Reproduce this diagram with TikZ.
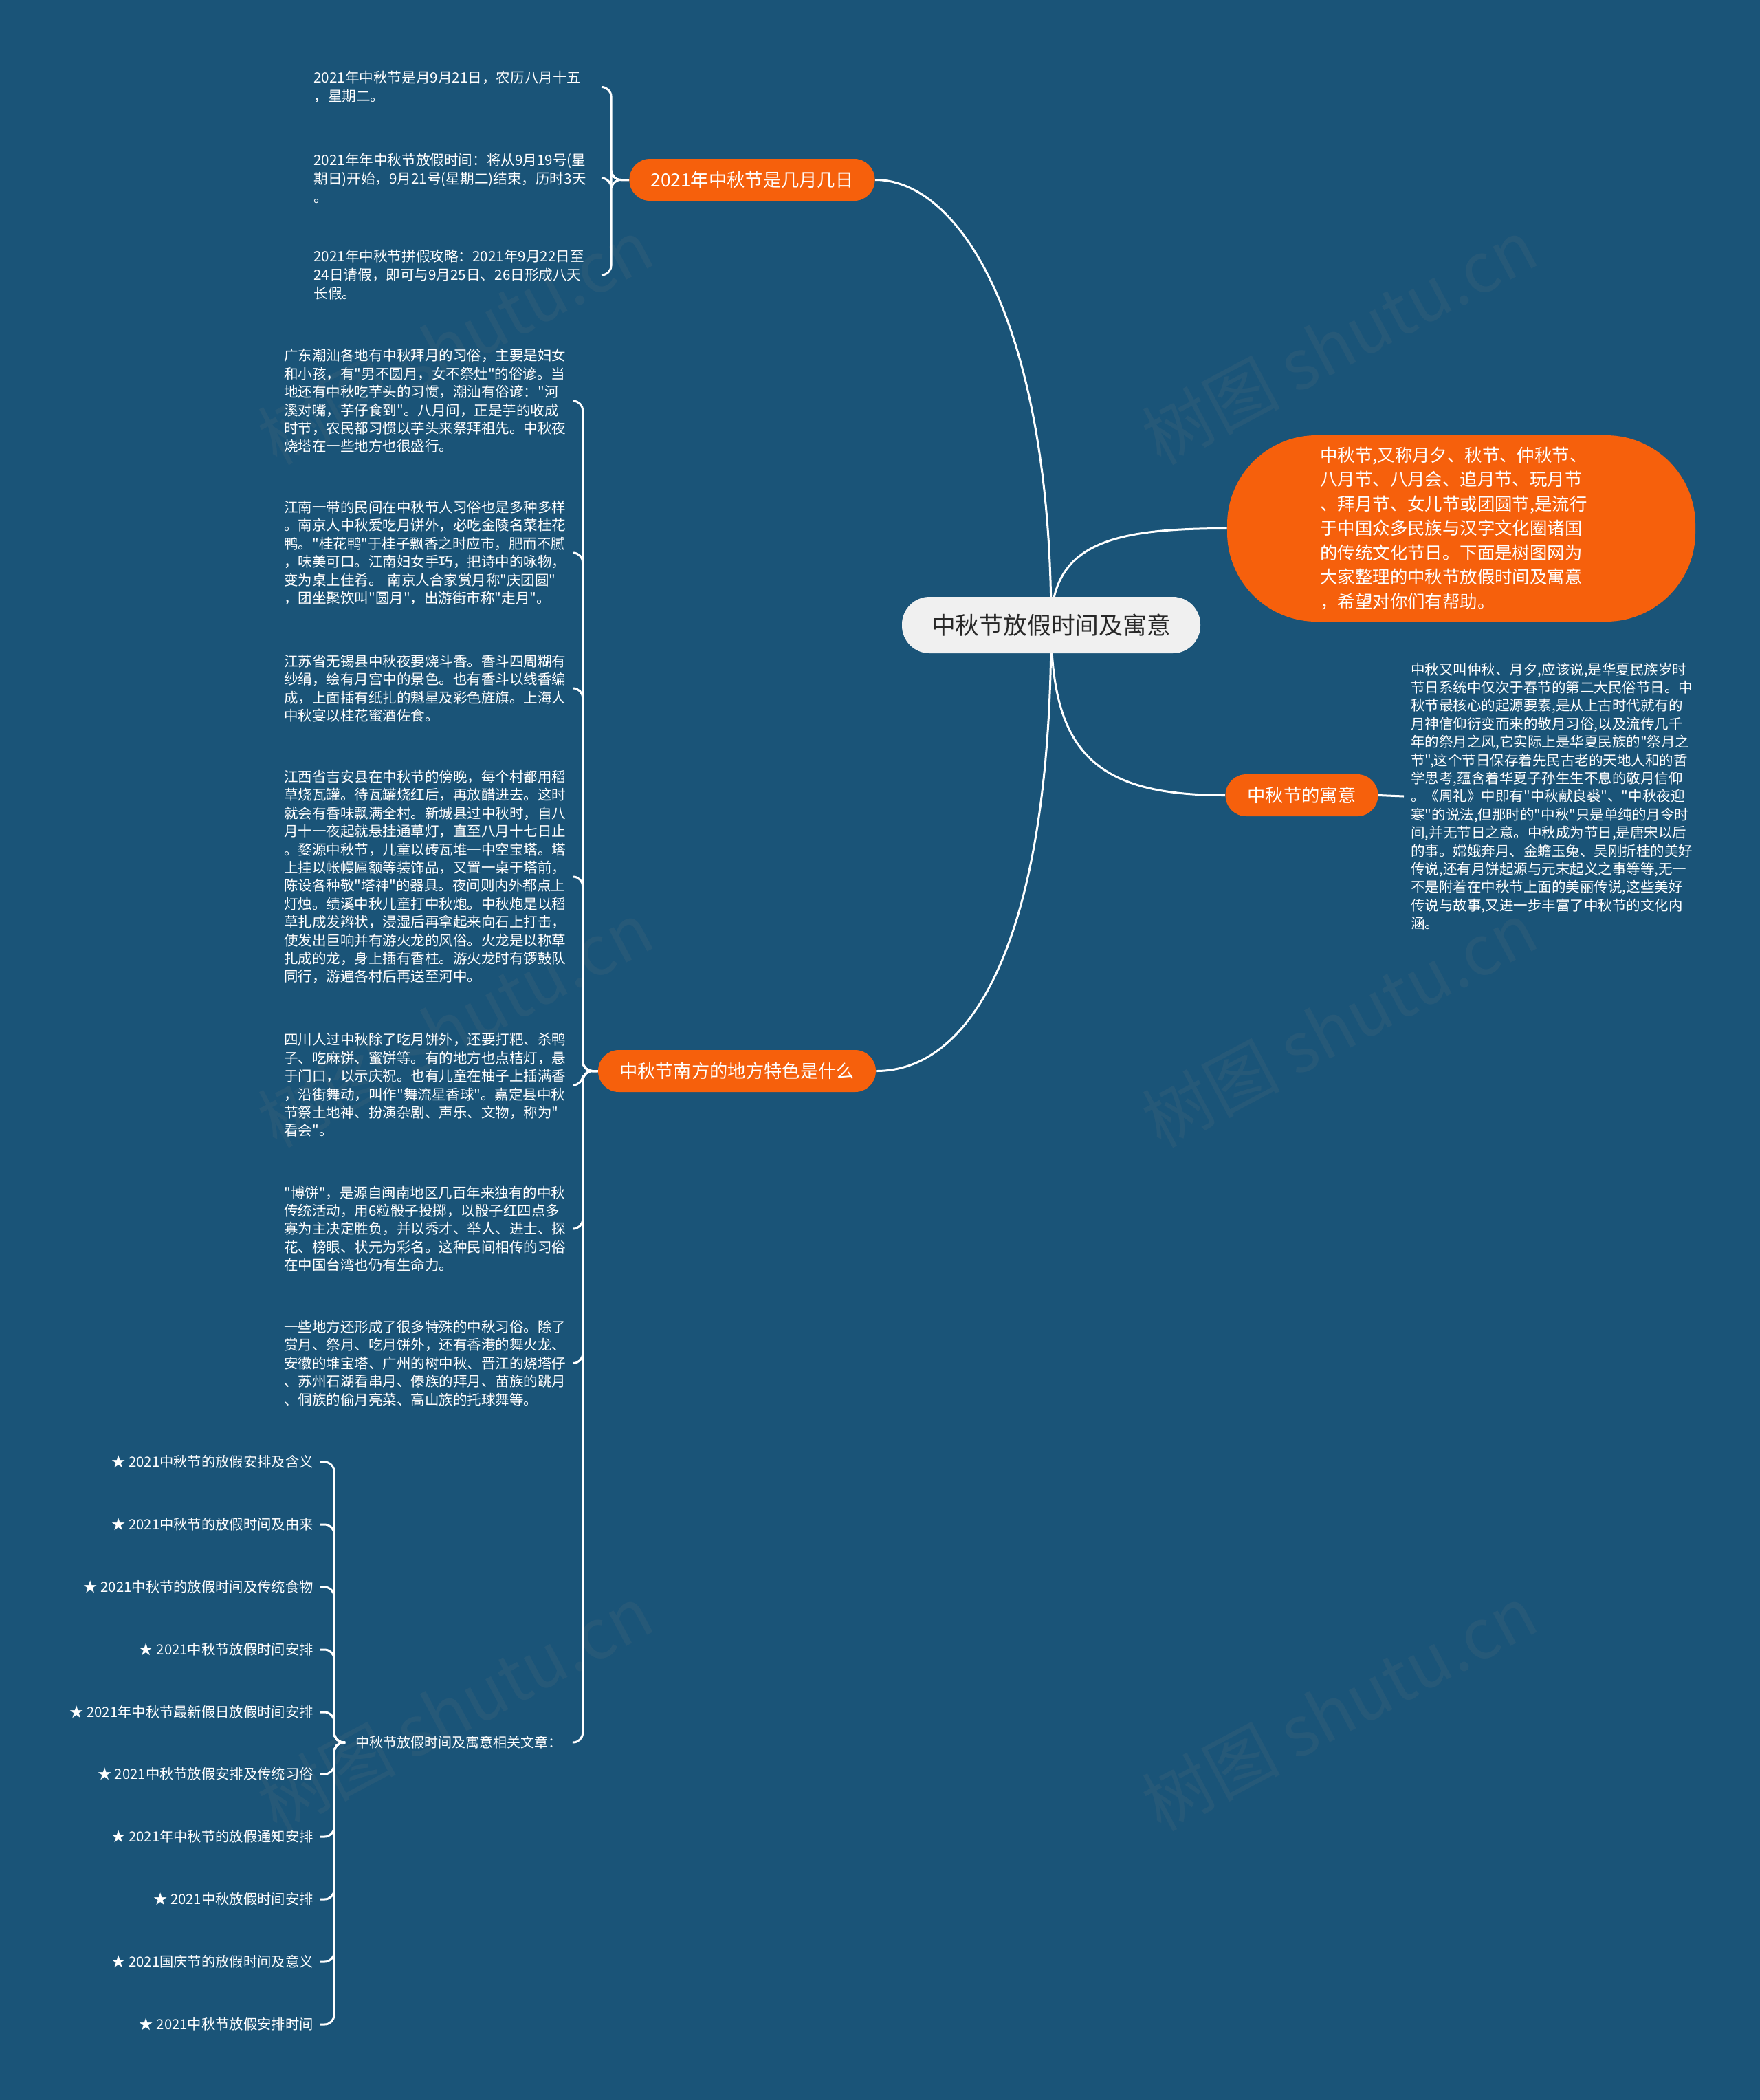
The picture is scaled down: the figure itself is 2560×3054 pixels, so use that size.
\documentclass[tikz,border=0pt]{standalone}
\usepackage{fontspec}
\setmainfont{Noto Sans CJK SC}[Ligatures=TeXOff]
\definecolor{bgblue}{RGB}{26,84,120}
\definecolor{orng}{RGB}{246,96,12}
\definecolor{rootfill}{RGB}{240,240,240}
\definecolor{roottext}{RGB}{40,40,40}
\pgfdeclarelayer{back}
\pgfdeclarelayer{mid}
\pgfsetlayers{back,mid,main}
\tikzset{
  leaf/.style={text=white, inner sep=0pt, text width=210pt, align=left, anchor=west,
    font=\fontsize{10.25}{13.2}\selectfont},
  leafA/.style={leaf, font=\fontsize{10.3}{13.5}\selectfont},
  branch/.style={fill=orng, text=white, rounded corners=15pt, minimum height=30.5pt,
    inner xsep=15.5pt, inner ysep=0pt, font=\fontsize{13.15}{16}\selectfont},
  rootbox/.style={fill=rootfill, text=roottext, rounded corners=20pt, minimum height=41pt,
    inner xsep=21.5pt, inner ysep=0pt, font=\fontsize{17.4}{20}\selectfont},
  bigbox/.style={fill=orng, text=white, rounded corners=65pt, minimum width=340.5pt,
    minimum height=135.5pt, text width=205pt, align=left, inner sep=0pt,
    font=\fontsize{12.7}{17.75}\selectfont},
  staritem/.style={text=white, inner xsep=5pt, inner ysep=0pt, anchor=east,
    font=\fontsize{10.15}{12}\selectfont},
  relnode/.style={text=white, inner xsep=7.5pt, inner ysep=0pt,
    font=\fontsize{10}{12}\selectfont},
  conn/.style={draw=white, line width=1.5pt},
  brace/.style={draw=white, line width=1.5pt, rounded corners=7pt},
  wm/.style={text=gray, opacity=0.12, rotate=28, font=\fontsize{50}{55}\selectfont}
}
\begin{document}
\begin{tikzpicture}[x=0.5pt,y=-0.5pt]
\begin{pgfonlayer}{back}
\fill[bgblue] (0,0) rectangle (2560,3054);
\foreach \wx/\wy [count=\i] in {662/497, 1948/497, 662/1490, 1948/1490, 662/2484, 1948/2484}
  \node[wm] (wm\i) at (\wx,\wy) {树图 shutu.cn};
\end{pgfonlayer}
\useasboundingbox (0,0) rectangle (2560,3054);

% root and branches
\node[rootbox] (root) at (1529,909) {中秋节放假时间及寓意};
\node[branch] (b1) at (1094,261.5) {2021年中秋节是几月几日};
\node[branch] (b2) at (1072,1557.5) {中秋节南方的地方特色是什么};
\node[bigbox] (b3) at (2125.5,768.5) {中秋节,又称月夕、秋节、仲秋节、\\八月节、八月会、追月节、玩月节\\、拜月节、女儿节或团圆节,是流行\\于中国众多民族与汉字文化圈诸国\\的传统文化节日。下面是树图网为\\大家整理的中秋节放假时间及寓意\\，希望对你们有帮助。};
\node[branch, inner xsep=16pt] (b4) at (1893.5,1156.5) {中秋节的寓意};

% branch 1 leaves
\node[leafA] (l11) at (456,126.5) {2021年中秋节是月9月21日，农历八月十五\\，星期二。};
\node[leafA] (l12) at (456,259) {2021年年中秋节放假时间：将从9月19号(星\\期日)开始，9月21号(星期二)结束，历时3天\\。};
\node[leafA] (l13) at (456,400) {2021年中秋节拼假攻略：2021年9月22日至\\24日请假，即可与9月25日、26日形成八天\\长假。};

% branch 4 text
\node[leaf, inner xsep=5pt] (t4) at (2042,1158) {中秋又叫仲秋、月夕,应该说,是华夏民族岁时\\节日系统中仅次于春节的第二大民俗节日。中\\秋节最核心的起源要素,是从上古时代就有的\\月神信仰衍变而来的敬月习俗,以及流传几千\\年的祭月之风,它实际上是华夏民族的"祭月之\\节",这个节日保存着先民古老的天地人和的哲\\学思考,蕴含着华夏子孙生生不息的敬月信仰\\。《周礼》中即有"中秋献良裘"、"中秋夜迎\\寒"的说法,但那时的"中秋"只是单纯的月令时\\间,并无节日之意。中秋成为节日,是唐宋以后\\的事。嫦娥奔月、金蟾玉兔、吴刚折桂的美好\\传说,还有月饼起源与元末起义之事等等,无一\\不是附着在中秋节上面的美丽传说,这些美好\\传说与故事,又进一步丰富了中秋节的文化内\\涵。};

% branch 2 leaves
\node[leaf] (m1) at (413,583) {广东潮汕各地有中秋拜月的习俗，主要是妇女\\和小孩，有"男不圆月，女不祭灶"的俗谚。当\\地还有中秋吃芋头的习惯，潮汕有俗谚："河\\溪对嘴，芋仔食到"。八月间，正是芋的收成\\时节，农民都习惯以芋头来祭拜祖先。中秋夜\\烧塔在一些地方也很盛行。};
\node[leaf] (m2) at (413,804) {江南一带的民间在中秋节人习俗也是多种多样\\。南京人中秋爱吃月饼外，必吃金陵名菜桂花\\鸭。"桂花鸭"于桂子飘香之时应市，肥而不腻\\，味美可口。江南妇女手巧，把诗中的咏物，\\变为桌上佳肴。 南京人合家赏月称"庆团圆"\\，团坐聚饮叫"圆月"，出游街市称"走月"。};
\node[leaf] (m3) at (413,1001) {江苏省无锡县中秋夜要烧斗香。香斗四周糊有\\纱绢，绘有月宫中的景色。也有香斗以线香编\\成，上面插有纸扎的魁星及彩色旌旗。上海人\\中秋宴以桂花蜜酒佐食。};
\node[leaf] (m4) at (413,1275) {江西省吉安县在中秋节的傍晚，每个村都用稻\\草烧瓦罐。待瓦罐烧红后，再放醋进去。这时\\就会有香味飘满全村。新城县过中秋时，自八\\月十一夜起就悬挂通草灯，直至八月十七日止\\。婺源中秋节，儿童以砖瓦堆一中空宝塔。塔\\上挂以帐幔匾额等装饰品，又置一桌于塔前，\\陈设各种敬"塔神"的器具。夜间则内外都点上\\灯烛。绩溪中秋儿童打中秋炮。中秋炮是以稻\\草扎成发辫状，浸湿后再拿起来向石上打击，\\使发出巨响并有游火龙的风俗。火龙是以称草\\扎成的龙，身上插有香柱。游火龙时有锣鼓队\\同行，游遍各村后再送至河中。};
\node[leaf] (m5) at (413,1578) {四川人过中秋除了吃月饼外，还要打粑、杀鸭\\子、吃麻饼、蜜饼等。有的地方也点桔灯，悬\\于门口，以示庆祝。也有儿童在柚子上插满香\\，沿街舞动，叫作"舞流星香球"。嘉定县中秋\\节祭土地神、扮演杂剧、声乐、文物，称为"\\看会"。};
\node[leaf] (m6) at (413,1787) {"博饼"，是源自闽南地区几百年来独有的中秋\\传统活动，用6粒骰子投掷，以骰子红四点多\\寡为主决定胜负，并以秀才、举人、进士、探\\花、榜眼、状元为彩名。这种民间相传的习俗\\在中国台湾也仍有生命力。};
\node[leaf] (m7) at (413,1982.5) {一些地方还形成了很多特殊的中秋习俗。除了\\赏月、祭月、吃月饼外，还有香港的舞火龙、\\安徽的堆宝塔、广州的树中秋、晋江的烧塔仔\\、苏州石湖看串月、傣族的拜月、苗族的跳月\\、侗族的偷月亮菜、高山族的托球舞等。};
\node[relnode] (rel) at (667.5,2534) {中秋节放假时间及寓意相关文章：};

% star items
\node[staritem] (s1) at (466,2126) {★ 2021中秋节的放假安排及含义};
\node[staritem] (s2) at (466,2217) {★ 2021中秋节的放假时间及由来};
\node[staritem] (s3) at (466,2308) {★ 2021中秋节的放假时间及传统食物};
\node[staritem] (s4) at (466,2399) {★ 2021中秋节放假时间安排};
\node[staritem] (s5) at (466,2490) {★ 2021年中秋节最新假日放假时间安排};
\node[staritem] (s6) at (466,2580) {★ 2021中秋节放假安排及传统习俗};
\node[staritem] (s7) at (466,2671) {★ 2021年中秋节的放假通知安排};
\node[staritem] (s8) at (466,2762) {★ 2021中秋放假时间安排};
\node[staritem] (s9) at (466,2853) {★ 2021国庆节的放假时间及意义};
\node[staritem] (s10) at (466,2944) {★ 2021中秋节放假安排时间};

% connectors
\begin{pgfonlayer}{mid}
\draw[conn] (root.center) .. controls +(0,-429) and +(127,0) .. (b1.east);
\draw[conn] (root.center) .. controls +(0,-120) and +(-165,0) .. (b3.west);
\draw[conn] (root.center) .. controls +(0,190) and +(-184,0) .. (b4.west);
\draw[conn] (root.center) .. controls +(0,440) and +(147,0) .. (b2.east);
\draw[conn] (b4.east) -- (t4.west);
\foreach \c in {l11,l12,l13}
  \draw[brace] (b1.west) -- ++(-26,0) |- (\c.east);
\foreach \c in {m1,m2,m3,m4,m5,m6,m7,rel}
  \draw[brace] (b2.west) -- ++(-22,0) |- (\c.east);
\foreach \i in {1,...,10}
  \draw[brace] (rel.west) -- ++(-16,0) |- (s\i.east);
\end{pgfonlayer}
\end{tikzpicture}
\end{document}
